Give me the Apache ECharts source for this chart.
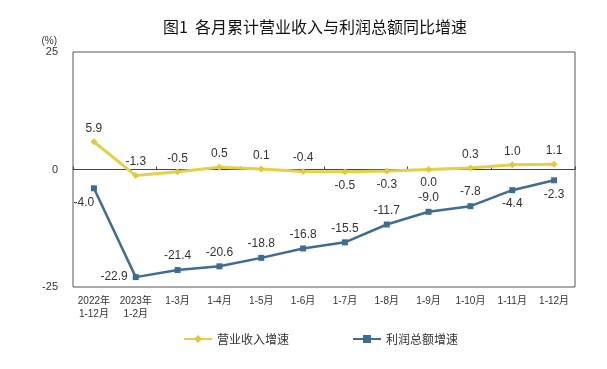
<!DOCTYPE html>
<html>
<head>
<meta charset="utf-8">
<script src="https://cdn.jsdelivr.net/npm/echarts@6/dist/echarts.min.js"></script>
<style>html,body{margin:0;padding:0;background:#fff}#c{width:607px;height:369px}</style>
</head>
<body>
<div id="c"></div>
<script>
const categories = ['2022年\n1-12月','2023年\n1-2月','1-3月','1-4月','1-5月','1-6月','1-7月','1-8月','1-9月','1-10月','1-11月','1-12月'];
const revenueGrowth = [5.9, -1.3, -0.5, 0.5, 0.1, -0.4, -0.5, -0.3, 0.0, 0.3, 1.0, 1.1];
const profitGrowth = [-4.0, -22.9, -21.4, -20.6, -18.8, -16.8, -15.5, -11.7, -9.0, -7.8, -4.4, -2.3];
const revenueLabelPos = ['top','top','top','top','top','top','bottom','bottom','bottom','top','top','top'];
const profitLabelPos = ['bottom','left','top','top','top','top','top','top','top','top','bottom','bottom'];
const yTicks = [-25, 0, 25];

const font = '"Liberation Sans","Noto Sans CJK SC",sans-serif';
const chart = echarts.init(document.getElementById('c'));
function mk(vals, pos, extra) {
  return vals.map((v, i) => {
    const o = {value: v, label: {position: pos[i]}};
    if (extra && extra[i]) Object.assign(o.label, extra[i]);
    return o;
  });
}
chart.setOption({
  animation: false,
  textStyle: {fontFamily: font},
  title: {
    text: '图1  各月累计营业收入与利润总额同比增速',
    left: 158, top: 14,
    textStyle: {fontSize: 16, fontWeight: 'normal', color: '#111', fontFamily: '"Noto Sans CJK SC",sans-serif'}
  },
  legend: {
    left: 178, top: 328,
    itemWidth: 28, itemHeight: 10, itemGap: 63,
    textStyle: {fontSize: 12, color: '#333', fontFamily: '"Noto Sans CJK SC",sans-serif'},
    data: ['营业收入增速', '利润总额增速']
  },
  grid: {left: 73, right: 32, top: 52, bottom: 82, show: true, borderColor: '#555', borderWidth: 1, backgroundColor: 'transparent'},
  xAxis: [
    {
      type: 'category', data: categories, boundaryGap: true,
      axisLine: {onZero: true, lineStyle: {color: '#444', width: 1}},
      axisTick: {show: true, inside: true, length: 3, lineStyle: {color: '#444'}},
      axisLabel: {show: false}
    },
    {
      type: 'category', data: categories, boundaryGap: true, position: 'bottom',
      axisLine: {show: false, onZero: false},
      axisTick: {show: false},
      axisLabel: {show: true, interval: 0, fontSize: 10, color: '#333', lineHeight: 13, margin: 8, fontFamily: font}
    }
  ],
  yAxis: {
    type: 'value', min: yTicks[0], max: yTicks[2], interval: 25,
    name: '(%)', nameLocation: 'end', nameGap: 6,
    nameTextStyle: {fontSize: 10, color: '#333', align: 'right', padding: [0, 16, 0, 0]},
    axisLine: {show: false}, axisTick: {show: false}, splitLine: {show: false},
    axisLabel: {fontSize: 11, color: '#333', margin: 15}
  },
  series: [
    {
      name: '营业收入增速', type: 'line', xAxisIndex: 0,
      data: mk(revenueGrowth, revenueLabelPos),
      symbol: 'diamond', symbolSize: 7,
      lineStyle: {color: '#E6D043', width: 3},
      itemStyle: {color: '#E2C93A'},
      label: {show: true, formatter: p => p.value.toFixed(1), fontSize: 12, color: '#333', distance: 4},
      z: 3
    },
    {
      name: '利润总额增速', type: 'line', xAxisIndex: 0,
      data: mk(profitGrowth, profitLabelPos, {0: {offset: [-10, 0]}}),
      symbol: 'rect', symbolSize: 6,
      lineStyle: {color: '#3F6C95', width: 2.5},
      itemStyle: {color: '#3F6C95'},
      label: {show: true, formatter: p => p.value.toFixed(1), fontSize: 12, color: '#333', distance: 5},
      z: 2
    }
  ]
});
</script>
</body>
</html>
